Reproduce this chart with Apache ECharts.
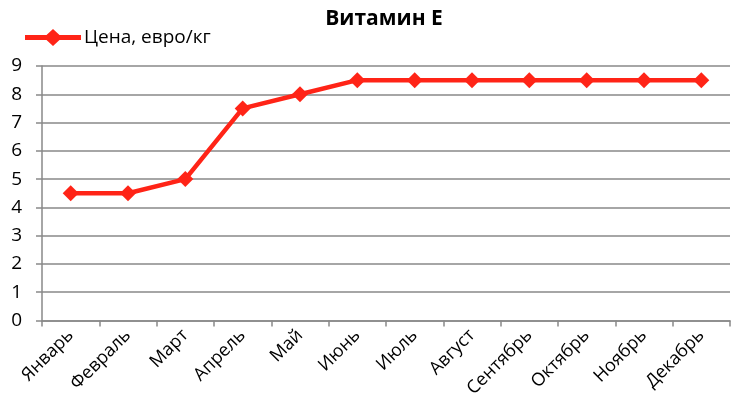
<!DOCTYPE html>
<html><head><meta charset="utf-8">
<script src="https://cdn.jsdelivr.net/npm/echarts@6/dist/echarts.min.js"></script>
<style>html,body{margin:0;padding:0;background:#fff}#c{width:731px;height:419px}</style>
</head><body><div id="c"></div>
<script>
const months = ['Январь','Февраль','Март','Апрель','Май','Июнь','Июль','Август','Сентябрь','Октябрь','Ноябрь','Декабрь'];
const prices = [4.5,4.5,5,7.5,8,8.5,8.5,8.5,8.5,8.5,8.5,8.5];
const seriesName = 'Цена, евро/кг';
const titleText = 'Витамин Е';
const FONT = '"Open Sans", "Liberation Sans", sans-serif';
const chart = echarts.init(document.getElementById('c'), null, {renderer:'canvas'});
chart.setOption({
  animation:false,
  title:{text:titleText,left:379,top:4,textAlign:'center',textStyle:{fontFamily:FONT,fontWeight:'bold',fontSize:21,color:'#000'}},
  legend:{left:20,top:23,itemWidth:56,itemHeight:17,itemGap:4,
    data:[{name:seriesName,icon:'path://M0,6H21.5L28,0L34.5,6H56V11H34.5L28,17L21.5,11H0Z'}],
    itemStyle:{color:'#ff2417'},
    textStyle:{fontFamily:FONT,fontSize:19,color:'#000',padding:[0,0,0,-2]}},
  grid:{left:42,right:1,top:66,bottom:98.5,containLabel:false},
  xAxis:{type:'category',data:months,boundaryGap:true,
    axisLine:{lineStyle:{color:'#898989',width:1.5}},
    axisTick:{show:true,length:6,lineStyle:{color:'#898989',width:1.5}},
    axisLabel:{rotate:45,fontFamily:FONT,fontSize:18,color:'#000',margin:12,interval:0}},
  yAxis:{type:'value',min:0,max:9,interval:1,
    axisLine:{show:true,lineStyle:{color:'#898989',width:1.5}},
    axisTick:{show:true,length:6,lineStyle:{color:'#898989',width:1.5}},
    splitLine:{lineStyle:{color:'#898989',width:1.5}},
    axisLabel:{fontFamily:FONT,fontSize:19,color:'#000',margin:20}},
  series:[{name:seriesName,type:'line',data:prices,symbol:'diamond',symbolSize:16,
    lineStyle:{color:'#ff2417',width:4.5},itemStyle:{color:'#ff2417'}}]
});
</script></body></html>
